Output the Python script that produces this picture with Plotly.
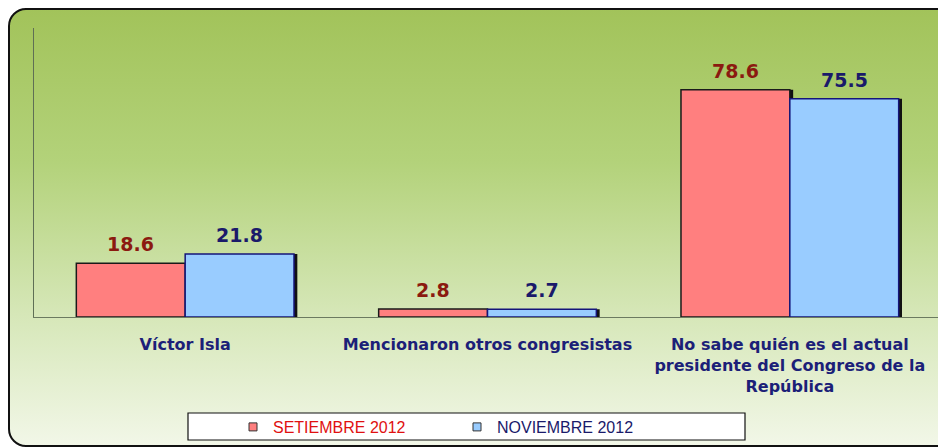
import base64
import plotly.graph_objects as go

categories = ["Víctor Isla", "Mencionaron otros congresistas",
              "No sabe quién es el actual<br>presidente del Congreso de la<br>República"]
series_names = ["SETIEMBRE 2012", "NOVIEMBRE 2012"]
setiembre = [18.6, 2.8, 78.6]
noviembre = [21.8, 2.7, 75.5]

W, H = 946, 448
OFF = 8  # page body margin offset
xpos = list(range(len(categories)))

svg = f'''<svg xmlns="http://www.w3.org/2000/svg" width="{W}" height="{H}" viewBox="0 0 {W} {H}" preserveAspectRatio="none">
<defs><linearGradient id="g" x1="0" y1="0" x2="0" y2="1">
<stop offset="0" stop-color="#a2c35a"/>
<stop offset="0.35" stop-color="#b3d27a"/>
<stop offset="0.7" stop-color="#d6e7b8"/>
<stop offset="1" stop-color="#f2f7e8"/>
</linearGradient></defs>
<rect x="1" y="1" width="980" height="437" rx="17" ry="17" fill="url(#g)" stroke="#111" stroke-width="2"/>
</svg>'''
bg_uri = "data:image/svg+xml;base64," + base64.b64encode(svg.encode()).decode()

bw = 0.36
sh = 0.011
fig = go.Figure()

for vals, off in [(setiembre, -bw), (noviembre, 0.0)]:
    fig.add_trace(go.Bar(x=xpos, y=vals, width=bw, offset=off + sh,
                         marker=dict(color="#111111", line=dict(width=0)),
                         showlegend=False, hoverinfo="skip"))

fig.add_trace(go.Bar(
    x=xpos, y=setiembre, width=bw, offset=-bw, name=series_names[0],
    marker=dict(color="#ff7f7f", line=dict(color="#1a1a1a", width=1.5)),
    showlegend=False))
fig.add_trace(go.Bar(
    x=xpos, y=noviembre, width=bw, offset=0.0, name=series_names[1],
    marker=dict(color="#99ccff", line=dict(color="#15157a", width=1.5)),
    showlegend=False))

annotations = []
for vals, dx, col in [(setiembre, -bw / 2, "#8b1a10"), (noviembre, bw / 2, "#1a1a6a")]:
    for i, v in zip(xpos, vals):
        annotations.append(dict(x=i + dx, y=v, xref="x", yref="y", text=f"<b>{v:.1f}</b>",
                                showarrow=False, yanchor="bottom", yshift=6,
                                font=dict(family="DejaVu Sans", size=19, color=col)))

fig.add_trace(go.Scatter(x=[None], y=[None], mode="markers",
                         name="<span style='color:#e01010'>" + series_names[0] + "</span>",
                         marker=dict(symbol="square", size=8, color="#ff7f7f",
                                     line=dict(color="#333", width=1))))
fig.add_trace(go.Scatter(x=[None], y=[None], mode="markers",
                         name="<span style='color:#1a1a6a'>" + series_names[1] + "</span>",
                         marker=dict(symbol="square", size=8, color="#99ccff",
                                     line=dict(color="#333", width=1))))

fig.update_layout(
    width=W, height=H,
    margin=dict(l=0, r=0, t=0, b=0),
    paper_bgcolor="white", plot_bgcolor="rgba(0,0,0,0)",
    barmode="overlay",
    images=[dict(source=bg_uri, xref="paper", yref="paper", x=0, y=1,
                 sizex=1, sizey=1, sizing="stretch", xanchor="left",
                 yanchor="top", layer="below")],
    xaxis=dict(domain=[(34 - OFF) / W, (941 - OFF) / W], range=[-0.5, 2.5],
               tickmode="array", tickvals=xpos, ticktext=categories,
               tickfont=dict(family="DejaVu Sans", size=16, color="#1c1f78",
                             weight="bold"),
               showline=True, linecolor="#6b7a60", linewidth=1,
               showgrid=False, zeroline=False, ticks="", ticklabelstandoff=13),
    yaxis=dict(domain=[(H - (317 - OFF)) / H, (H - (28 - OFF)) / H], range=[0, 100],
               showticklabels=False, showgrid=False, zeroline=False,
               showline=True, linecolor="#5f6f55", linewidth=1, ticks=""),
    showlegend=True,
    legend=dict(orientation="h", x=(457 - OFF) / W, xanchor="center",
                y=(H - (427 - OFF)) / H, yanchor="middle", bgcolor="rgba(0,0,0,0)",
                font=dict(family="Liberation Sans", size=16),
                itemsizing="trace", entrywidth=179, entrywidthmode="pixels",
                traceorder="normal"),
    shapes=[dict(type="rect", xref="paper", yref="paper",
                 x0=(188 - OFF) / W, x1=(745 - OFF) / W,
                 y0=(H - (440 - OFF)) / H, y1=(H - (413 - OFF)) / H,
                 fillcolor="white", line=dict(color="#111", width=1.2),
                 layer="below")],
    annotations=annotations,
    font=dict(family="Liberation Sans"),
)

fig.write_html("out.html")
